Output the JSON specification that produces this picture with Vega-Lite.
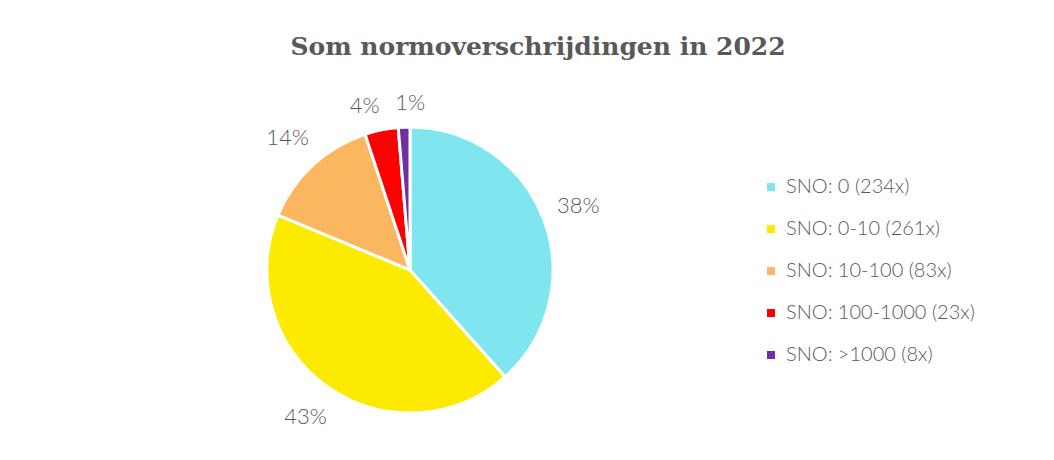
{
  "$schema": "https://vega.github.io/schema/vega-lite/v6.json",
  "width": 820,
  "height": 290,
  "padding": {"top": 35, "left": 0, "right": 0, "bottom": 0},
  "background": "white",
  "title": {
    "text": "Som normoverschrijdingen in 2022",
    "font": "DejaVu Serif",
    "fontSize": 25,
    "fontWeight": "bold",
    "color": "#595959",
    "anchor": "middle",
    "dx": 128,
    "offset": 19
  },
  "data": {
    "values": [
      {"cat": "SNO: 0 (234x)", "n": 234, "pct": "38%", "ord": 1},
      {"cat": "SNO: 0-10 (261x)", "n": 261, "pct": "43%", "ord": 2},
      {"cat": "SNO: 10-100 (83x)", "n": 83, "pct": "14%", "ord": 3},
      {"cat": "SNO: 100-1000 (23x)", "n": 23, "pct": "4%", "ord": 4},
      {"cat": "SNO: >1000 (8x)", "n": 8, "pct": "1%", "ord": 5}
    ]
  },
  "encoding": {
    "theta": {"field": "n", "type": "quantitative", "stack": true},
    "order": {"field": "ord", "type": "quantitative"}
  },
  "layer": [
    {
      "mark": {"type": "arc", "radius": 143, "stroke": "white", "strokeWidth": 3},
      "encoding": {
        "color": {
          "field": "cat",
          "type": "nominal",
          "sort": ["SNO: 0 (234x)", "SNO: 0-10 (261x)", "SNO: 10-100 (83x)", "SNO: 100-1000 (23x)", "SNO: >1000 (8x)"],
          "scale": {
            "domain": ["SNO: 0 (234x)", "SNO: 0-10 (261x)", "SNO: 10-100 (83x)", "SNO: 100-1000 (23x)", "SNO: >1000 (8x)"],
            "range": ["#7FE6F0", "#FCEA00", "#FBB660", "#FF0000", "#7030A0"]
          },
          "legend": {
            "title": null,
            "orient": "none",
            "legendX": 761,
            "legendY": 52,
            "symbolType": "square",
            "symbolSize": 64,
            "symbolStrokeWidth": 0,
            "labelFont": "Lato",
            "labelFontWeight": 300,
            "labelFontSize": 20,
            "labelColor": "#595959",
            "labelLimit": 400,
            "rowPadding": 22,
            "labelOffset": 5
          }
        }
      }
    },
    {
      "mark": {"type": "text", "radius": 180, "font": "Lato", "fontWeight": 300, "fontSize": 22, "color": "#595959"},
      "encoding": {"text": {"condition": {"test": "datum.ord <= 3", "field": "pct"}, "value": ""}}
    },
    {
      "mark": {"type": "text", "radius": 167, "dx": -12, "font": "Lato", "fontWeight": 300, "fontSize": 22, "color": "#595959"},
      "encoding": {"text": {"condition": {"test": "datum.ord == 4", "field": "pct"}, "value": ""}}
    },
    {
      "mark": {"type": "text", "radius": 167, "dx": 7, "font": "Lato", "fontWeight": 300, "fontSize": 22, "color": "#595959"},
      "encoding": {"text": {"condition": {"test": "datum.ord == 5", "field": "pct"}, "value": ""}}
    }
  ],
  "config": {"view": {"stroke": null}}
}
